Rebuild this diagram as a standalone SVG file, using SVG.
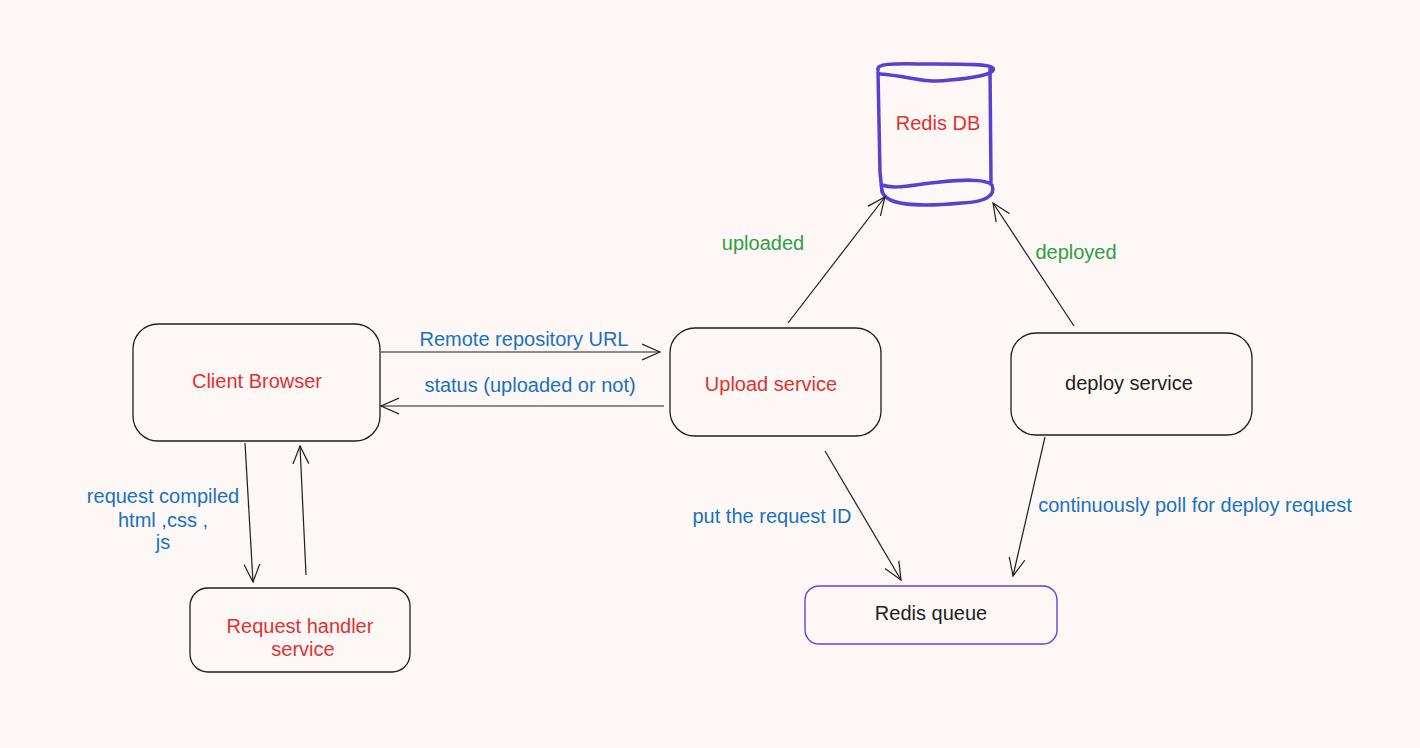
<svg xmlns="http://www.w3.org/2000/svg" width="1420" height="748" viewBox="0 0 1420 748">
<defs>
<style>
.node{fill:none;stroke:#1e1e1e;stroke-width:1.3}
.purple{fill:none;stroke:#6741d9;stroke-width:1.4}
.db{fill:none;stroke:#5b3fd0;stroke-width:3.5;stroke-linecap:round;stroke-linejoin:round}
.conn{fill:none;stroke:#1e1e1e;stroke-width:1.2}
text{font-family:"Liberation Sans",Arial,sans-serif;font-size:20px;text-anchor:middle}
.red{fill:#e03131}
.blk{fill:#1e1e1e}
.blue{fill:#1971c2}
.green{fill:#2f9e44}
</style>
<marker id="arr" viewBox="0 0 20 20" refX="18" refY="10" markerWidth="20" markerHeight="20" markerUnits="userSpaceOnUse" orient="auto">
<path d="M0,2 L18,10 L0,18" fill="none" stroke="#1e1e1e" stroke-width="1.2"/>
</marker>
</defs>
<rect width="1420" height="748" fill="#fdf8f6"/>
<g id="redis-db">
<path class="db" d="M878,70 C876,62 900,64 935,64 C965,64 990,64 993,68 C996,74 975,78 950,80 C925,84 910,76 880,74 M878,72 L880,172 L882,192 M990,68 L991,182 M882,190 C884,210 940,205 962,203 C985,202 996,196 992,185 C985,178 960,180 940,182 C915,184 895,190 882,185"/>
<text class="red" x="938" y="130">Redis DB</text>
</g>
<g id="client-browser">
<rect class="node" x="133" y="324" width="247" height="117" rx="25"/>
<text class="red" x="257" y="388">Client Browser</text>
</g>
<g id="upload-service">
<rect class="node" x="670" y="328" width="211" height="108" rx="25"/>
<text class="red" x="771" y="391">Upload service</text>
</g>
<g id="deploy-service">
<rect class="node" x="1011" y="333" width="241" height="102" rx="25"/>
<text class="blk" x="1129" y="390">deploy service</text>
</g>
<g id="request-handler">
<rect class="node" x="190" y="588" width="220" height="84" rx="18"/>
<text class="red" x="300" y="633">Request handler</text>
<text class="red" x="303" y="656">service</text>
</g>
<g id="redis-queue">
<rect class="purple" x="805" y="586" width="252" height="58" rx="14"/>
<text class="blk" x="931" y="620">Redis queue</text>
</g>
<g id="connectors">
<path class="conn" d="M381,352 L660,352" marker-end="url(#arr)"/>
<path class="conn" d="M664,406 L381,406" marker-end="url(#arr)"/>
<path class="conn" d="M245,443 L253,582" marker-end="url(#arr)"/>
<path class="conn" d="M306,575 L300,446" marker-end="url(#arr)"/>
<path class="conn" d="M788,323 L885,197" marker-end="url(#arr)"/>
<path class="conn" d="M1074,326 L993,203" marker-end="url(#arr)"/>
<path class="conn" d="M825,451 L901,580" marker-end="url(#arr)"/>
<path class="conn" d="M1045,437 L1013,576" marker-end="url(#arr)"/>
<text class="blue" x="524" y="346">Remote repository URL</text>
<text class="blue" x="530" y="392">status (uploaded or not)</text>
<text class="blue" x="163" y="503">request compiled</text>
<text class="blue" x="163" y="527">html ,css ,</text>
<text class="blue" x="163" y="549">js</text>
<text class="green" x="763" y="250">uploaded</text>
<text class="green" x="1076" y="259">deployed</text>
<text class="blue" x="772" y="523">put the request ID</text>
<text class="blue" x="1195" y="512">continuously poll for deploy request</text>
</g>
</svg>
